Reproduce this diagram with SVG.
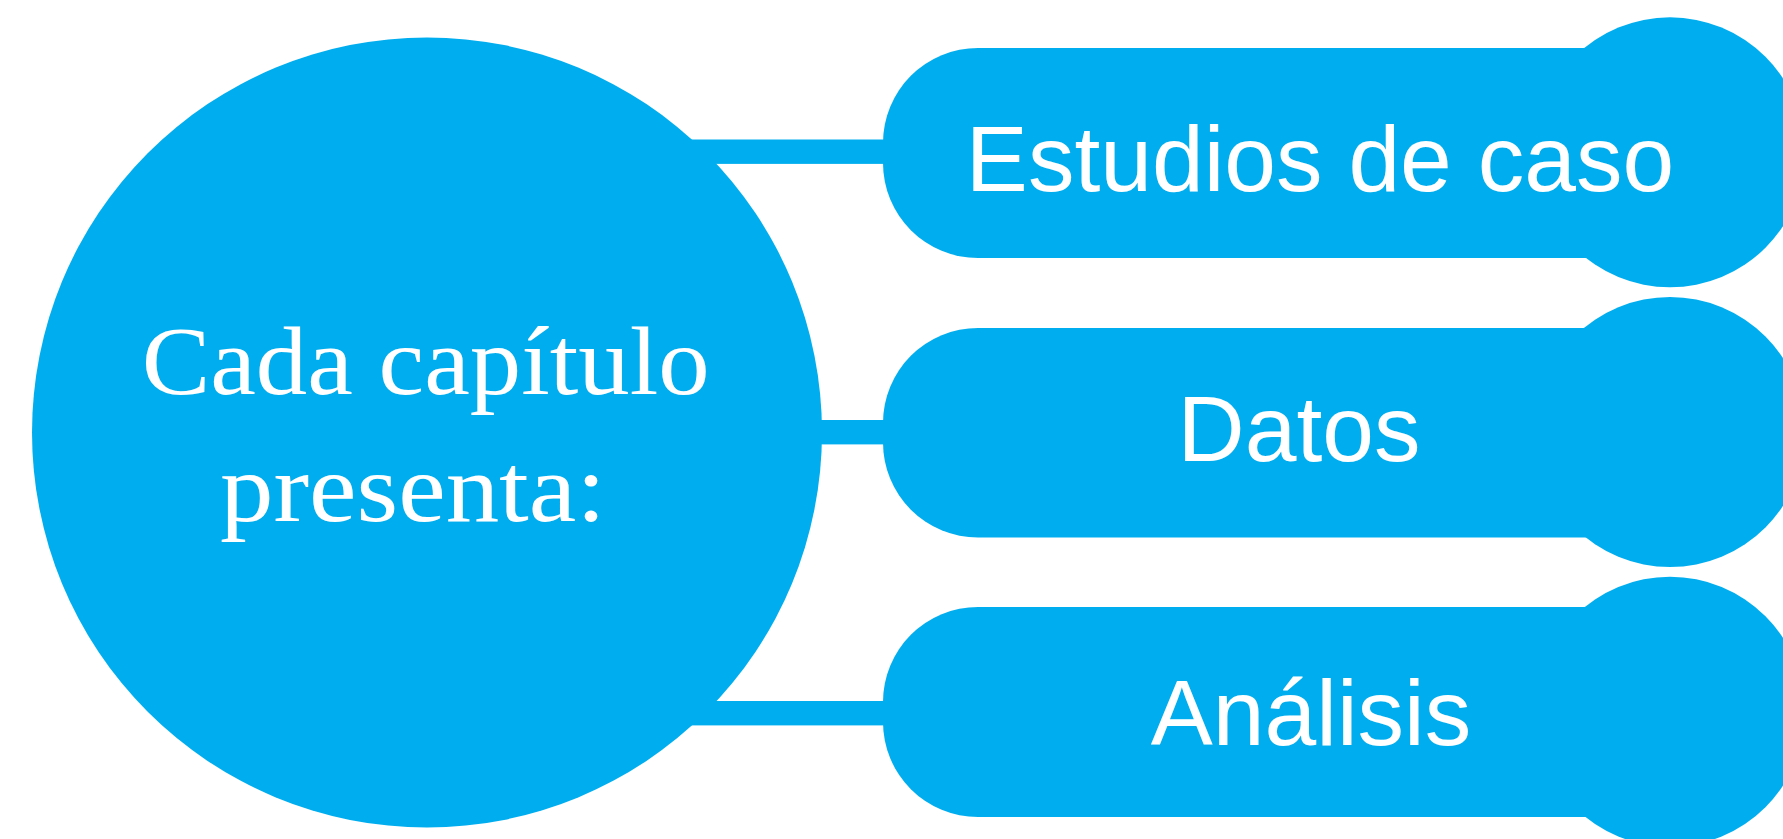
<svg xmlns="http://www.w3.org/2000/svg" width="1783" height="839" viewBox="0 0 1783 839">
  <style>
    .fill { fill: #00AEEF; }
    .conn { fill: #00AEEF; }
    .lbl { font-family: "Liberation Sans", Arial, sans-serif; font-size: 93px; fill: #FFFFFF; text-anchor: middle; }
    .main { font-family: "Liberation Serif", "Times New Roman", serif; font-size: 97px; fill: #FFFFFF; }
  </style>
  <rect width="1783" height="839" fill="#FFFFFF"/>
  <g id="connectors">
    <rect class="conn" x="427" y="139.5" width="480" height="24.4"/>
    <rect class="conn" x="427" y="420" width="480" height="24.4"/>
    <rect class="conn" x="427" y="701" width="480" height="24.4"/>
  </g>
  <g id="node-main">
    <circle class="fill" cx="427" cy="432.5" r="395"/>
    <text class="main" x="141.7" y="394" textLength="568" lengthAdjust="spacingAndGlyphs">Cada capítulo</text>
    <text class="main" x="220" y="521" textLength="386" lengthAdjust="spacingAndGlyphs">presenta:</text>
  </g>
  <g id="node-estudios">
    <rect class="fill" x="883" y="48" width="820" height="210" rx="95" ry="95"/>
    <circle class="fill" cx="1670" cy="152.3" r="135"/>
    <text class="lbl" x="1320" y="190.7">Estudios de caso</text>
  </g>
  <g id="node-datos">
    <rect class="fill" x="883" y="328" width="820" height="209.5" rx="95" ry="95"/>
    <circle class="fill" cx="1670" cy="432" r="135"/>
    <text class="lbl" x="1299" y="460.7">Datos</text>
  </g>
  <g id="node-analisis">
    <rect class="fill" x="883" y="607" width="820" height="210" rx="95" ry="95"/>
    <circle class="fill" cx="1670" cy="711.7" r="135"/>
    <text class="lbl" x="1311" y="745">Análisis</text>
  </g>
</svg>
